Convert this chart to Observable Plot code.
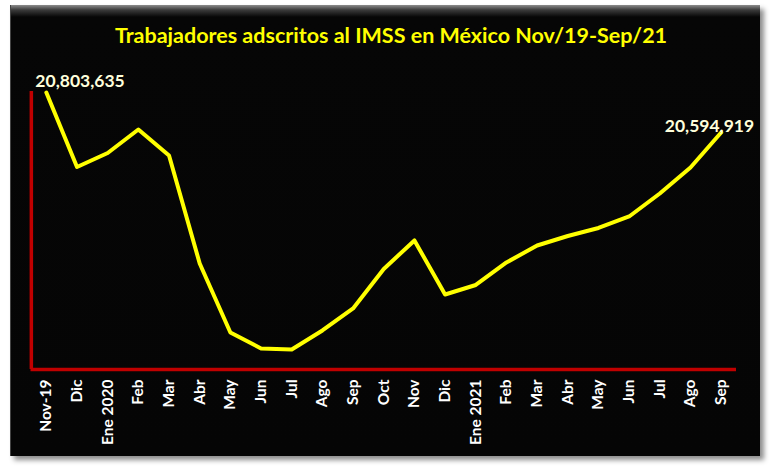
<!DOCTYPE html>
<html>
<head>
<meta charset="utf-8">
<script src="https://cdn.jsdelivr.net/npm/d3@7"></script>
<script src="https://cdn.jsdelivr.net/npm/@observablehq/plot@0.6"></script>
<style>
  html, body { margin: 0; padding: 0; background: #ffffff; }
  #panel {
    position: absolute; left: 10px; top: 5px; width: 750px; height: 451px;
    background: linear-gradient(to bottom, #8c8c8c 0px, #3a3a3a 5px, #060606 12px, #050505 100%);
    box-shadow: 4px 4px 5px rgba(0,0,0,0.45);
    border-left: 1px solid #444;
    box-sizing: border-box;
  }
  #title {
    position: absolute; left: 6px; top: 22px; width: 770px; text-align: center;
    font-family: Lato, sans-serif; font-weight: bold; font-size: 21.5px; color: #ffff00;
  }
  #chart { position: absolute; left: 0; top: 0; }
</style>
</head>
<body>
<div id="panel"></div>
<div id="title">Trabajadores adscritos al IMSS en México Nov/19-Sep/21</div>
<div id="chart"></div>
<script>
const monthLabels = ["Nov-19","Dic","Ene 2020","Feb","Mar","Abr","May","Jun","Jul","Ago","Sep","Oct","Nov","Dic","Ene 2021","Feb","Mar","Abr","May","Jun","Jul","Ago","Sep"];
const workers = [20803635,20415000,20488000,20610600,20474900,19911400,19551300,19467800,19462600,19561700,19676500,19882700,20031400,19749600,19799200,19916600,20005300,20054800,20096600,20156600,20276600,20412200,20594919];
const yDomain = [19358000, 20809000];

const data = workers.map((v, i) => ({i, v, label: monthLabels[i]}));
const first = [data[0]];
const last = [data[data.length - 1]];
const fmt = d3.format(",");

const chart = Plot.plot({
  width: 770,
  height: 471,
  marginLeft: 30.5,
  marginRight: 34,
  marginTop: 91,
  marginBottom: 102,
  style: {background: "transparent", color: "#ffffff", fontFamily: "Lato, sans-serif", fontSize: "15.5px", fontWeight: "bold"},
  x: {type: "point", domain: d3.range(workers.length), padding: 0.5, round: false, tickFormat: i => monthLabels[i], tickRotate: -90, tickSize: 0, tickPadding: 10, label: null},
  y: {domain: yDomain, axis: null},
  marks: [
    Plot.ruleY([yDomain[0]], {stroke: "#c00000", strokeWidth: 3.5}),
    Plot.ruleX([0], {x: d => d, dx: -15, stroke: "#c00000", strokeWidth: 3.5}),
    Plot.line(data, {x: "i", y: "v", stroke: "#ffff00", strokeWidth: 4, strokeLinejoin: "round"}),
    Plot.text(first, {x: "i", y: "v", text: d => fmt(d.v), textAnchor: "start", lineAnchor: "bottom", dx: -11, dy: -6, fill: "#ffffdc", fontSize: 17.5, fontWeight: "bold"}),
    Plot.text(last, {x: "i", y: "v", text: d => fmt(d.v), textAnchor: "end", lineAnchor: "bottom", dx: 33, dy: -1, fill: "#ffffdc", fontSize: 17.5, fontWeight: "bold"})
  ]
});
document.getElementById("chart").appendChild(chart);
</script>
</body>
</html>
